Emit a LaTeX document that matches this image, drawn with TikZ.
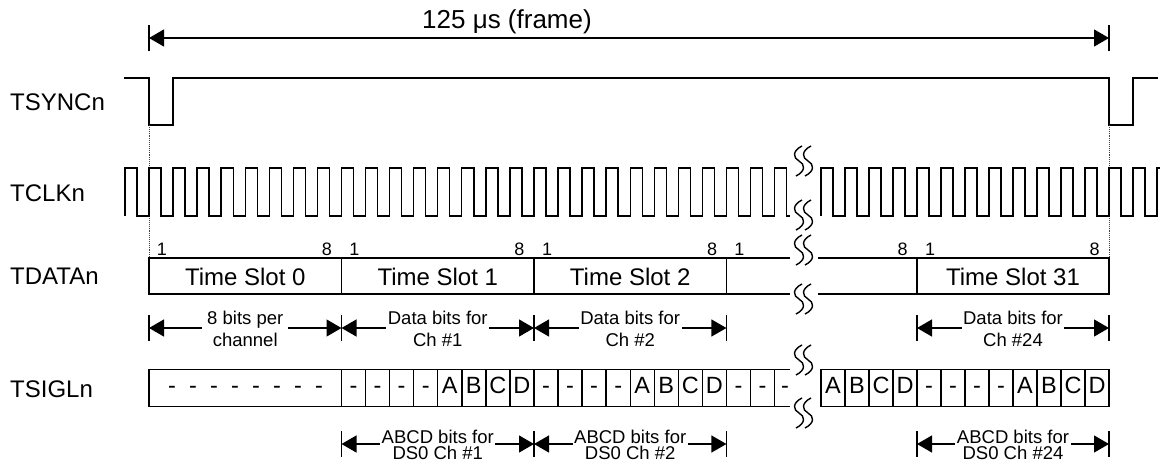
\documentclass[tikz,border=0pt]{standalone}
\usepackage{fontspec}
\setmainfont{Liberation Sans}
\usetikzlibrary{arrows.meta}
\newcommand\brkmark[2]{%
  \foreach \dx in {-4.5,4.5}{%
    \draw[sq] ({#1+\dx+3},{#2-15}) .. controls ({#1+\dx-7},{#2-10}) and ({#1+\dx-6},{#2-3}) .. ({#1+\dx},{#2}) .. controls ({#1+\dx+6},{#2+3}) and ({#1+\dx+7},{#2+10}) .. ({#1+\dx-3},{#2+15});
  }}
\begin{document}
\begin{tikzpicture}[x=1pt,y=-1pt,
  sig/.style={line width=1.4pt},
  tick/.style={line width=1.3pt},
  sq/.style={line width=1.4pt},
  guide/.style={line width=0.9pt,densely dotted,black!75},
  dim/.style={line width=1.3pt,{Triangle[length=15pt,width=17pt]}-{Triangle[length=15pt,width=17pt]}},
  ttl/.style={font=\fontsize{26}{30}\selectfont,inner sep=0pt,anchor=base},
  lbl/.style={font=\fontsize{24}{28}\selectfont,inner sep=0pt,anchor=base west},
  slot/.style={font=\fontsize{24}{28}\selectfont,inner sep=0pt,anchor=base},
  bitnum/.style={font=\fontsize{18}{20}\selectfont,inner sep=0pt,anchor=base},
  cell/.style={font=\fontsize{23.5}{26}\selectfont,inner sep=0pt,anchor=base},
  dtxt/.style={font=\fontsize{18.5}{21}\selectfont,inner ysep=0pt,inner xsep=1.5pt,text depth=5pt,anchor=base,fill=white},
  dtxtb/.style={font=\fontsize{18.5}{21}\selectfont,inner sep=0pt,anchor=base},
  atxt/.style={font=\fontsize{18.5}{21}\selectfont,inner ysep=0pt,inner xsep=1.5pt,text depth=4pt,anchor=base,fill=white},
  atxtb/.style={font=\fontsize{18.5}{21}\selectfont,inner sep=0pt,anchor=base}
]
\useasboundingbox (0,0) rectangle (1160,464);

% frame arrow and title
\node[ttl] (title) at (507,28) {125 μs (frame)};
\coordinate (fa) at (149,38);
\coordinate (fb) at (1109,38);
\draw[tick] (149,25) -- (149,51);
\draw[tick] (1109,25) -- (1109,51);
\draw[dim] (fa) -- (fb);

% row labels
\node[lbl] (lsync) at (10,110.5) {TSYNCn};
\node[lbl] (lclk) at (10,201.5) {TCLKn};
\node[lbl] (ldata) at (10,284.5) {TDATAn};
\node[lbl] (lsig) at (10,397) {TSIGLn};

% TSYNC
\draw[sig] (124,78) -- (149,78) -- (149,125) -- (173,125) -- (173,78) -- (1109,78) -- (1109,125) -- (1133,125) -- (1133,78) -- (1158,78);

% guides
\draw[guide] (149,125) -- (149,258);
\draw[guide] (1109,125) -- (1109,258);

% TCLK
\draw[sig] (124.94,216) \foreach \k in {1,...,27} { -- ++(0,-48) -- ++(12.03,0) -- ++(0,48) -- ++(12.03,0) } -- ++(0,-48) -- ++(12.03,0) -- ++(0,48) -- ++(3.4,0);
\draw[sig] (821,216) \foreach \k in {1,...,14} { -- ++(0,-48) -- ++(12,0) -- ++(0,48) -- ++(12,0) } -- ++(0,-48) -- (1160,168);

% TDATA
\draw[sig] (790,258) -- (149,258) -- (149,294) -- (790,294);
\draw[sig] (818,258) -- (1109,258) -- (1109,294) -- (818,294);
\foreach \x in {341.5,534,726.4,917} \draw[sig] (\x,258) -- (\x,294);
\node[slot] (ts0) at (245.25,285) {Time Slot 0};
\node[slot] (ts1) at (437.75,285) {Time Slot 1};
\node[slot] (ts2) at (630.2,285) {Time Slot 2};
\node[slot] (ts31) at (1013,285) {Time Slot 31};
\foreach \x [count=\i] in {162,354.5,547,739.4,930} \node[bitnum] (one\i) at (\x,255) {1};
\foreach \x [count=\i] in {327,519.5,712,902.5,1094.5} \node[bitnum] (eight\i) at (\x,255) {8};

% TSIGL
\draw[sig] (790,369.5) -- (149,369.5) -- (149,406.5) -- (790,406.5);
\draw[sig] (821,369.5) rectangle (1109,406.5);
\foreach \k in {0,...,18} \draw[sig] ({341.5+\k*24.06},369.5) -- ++(0,37);
\foreach \k in {1,...,11} \draw[sig] ({821+\k*24},369.5) -- ++(0,37);
\foreach \k in {0,...,7} \node[cell] (z\k) at ({172+\k*21},393) {-};
\foreach \t [count=\i from 0] in {-,-,-,-,A,B,C,D,-,-,-,-,A,B,C,D,-,-}
  \node[cell] (l\i) at ({341.5+(\i+0.5)*24.06},393) {\t};
\node[cell] (lend) at (785,393) {-};
\foreach \t [count=\i from 0] in {A,B,C,D,-,-,-,-,A,B,C,D}
  \node[cell] (r\i) at ({821+(\i+0.5)*24},393) {\t};

% data dimension arrows
\foreach \a/\b/\n in {149/341.5/0,341.5/534/1,534/726.4/2,917/1109/3}{
  \coordinate (da\n) at (\a,328);
  \coordinate (db\n) at (\b,328);
  \draw[dim] (da\n) -- (db\n);
}
\foreach \x in {149,341.5,534,726.4,917,1109} \draw[tick] (\x,315) -- (\x,341);
\node[dtxt,inner xsep=5pt] (d0a) at (245.25,324) {8 bits per};
\node[dtxtb] (d0b) at (245.25,346) {channel};
\node[dtxt] (d1a) at (437.75,324) {Data bits for};
\node[dtxtb] (d1b) at (437.75,346) {Ch \#1};
\node[dtxt] (d2a) at (630.2,324) {Data bits for};
\node[dtxtb] (d2b) at (630.2,346) {Ch \#2};
\node[dtxt] (d3a) at (1013,324) {Data bits for};
\node[dtxtb] (d3b) at (1013,346) {Ch \#24};

% ABCD dimension arrows
\foreach \a/\b/\n in {341.5/534/1,534/726.4/2,917/1109/3}{
  \coordinate (sa\n) at (\a,444);
  \coordinate (sb\n) at (\b,444);
  \draw[dim] (sa\n) -- (sb\n);
}
\foreach \x in {341.5,534,726.4,917,1109} \draw[tick] (\x,431) -- (\x,457);
\node[atxt] (s1a) at (437.75,443) {ABCD bits for};
\node[atxtb] (s1b) at (437.75,459.5) {DS0 Ch \#1};
\node[atxt] (s2a) at (630.2,443) {ABCD bits for};
\node[atxtb] (s2b) at (630.2,459.5) {DS0 Ch \#2};
\node[atxt] (s3a) at (1013,443) {ABCD bits for};
\node[atxtb] (s3b) at (1013,459.5) {DS0 Ch \#24};

% break marks
\brkmark{803.5}{161}
\brkmark{803.5}{215}
\brkmark{803.5}{250}
\brkmark{803.5}{299}
\brkmark{803.5}{360}
\brkmark{803.5}{413}
\end{tikzpicture}
\end{document}
